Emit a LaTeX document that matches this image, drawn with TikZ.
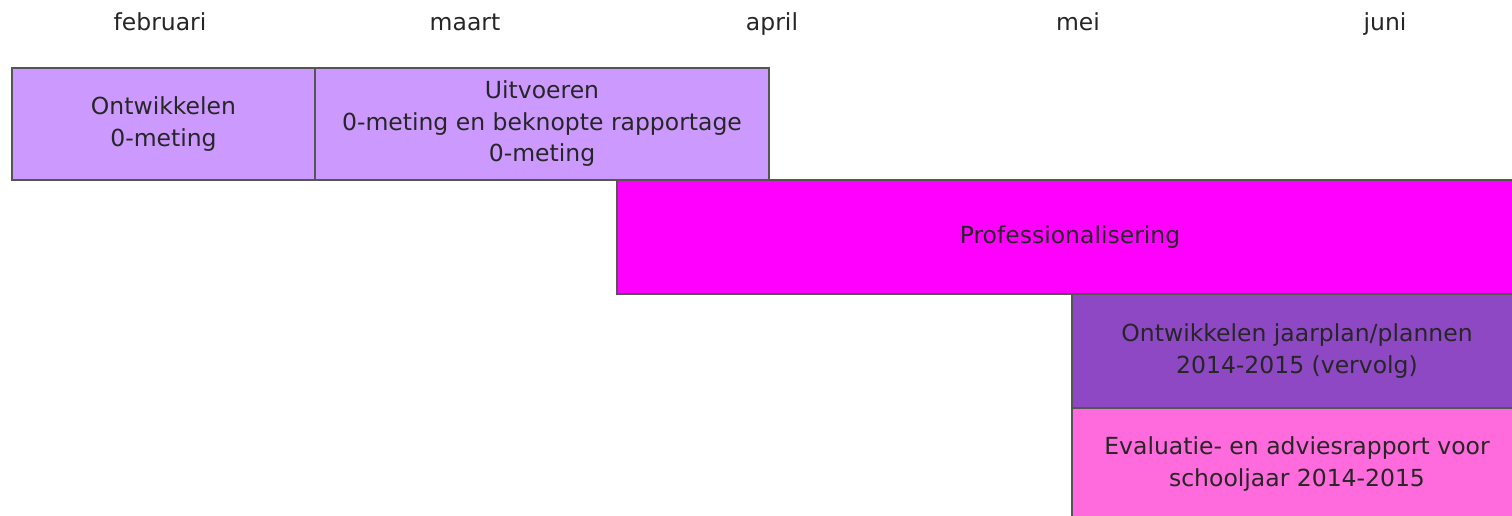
\documentclass[tikz,border=0pt]{standalone}
\usepackage{fontspec}
\setmainfont{DejaVu Sans}
\usepackage{xcolor}
\usetikzlibrary{positioning}

\definecolor{lila}{HTML}{CC99FF}
\definecolor{magenta2}{HTML}{FF00FF}
\definecolor{paars}{HTML}{8E48C4}
\definecolor{roze}{HTML}{FF6ADC}
\definecolor{rand}{HTML}{555555}

\tikzset{
	monthlabel/.style = {font=\fontsize{23.5}{28}\selectfont, text=black!85},
	taskbox/.style = {draw=rand, line width=1.5pt, align=center, inner sep=0pt,
		font=\fontsize{23.5}{31.5}\selectfont, text=black!85}
}

\begin{document}
\begin{tikzpicture}[x=1pt, y=-1pt]
			\useasboundingbox (0,0) rectangle (1512,516);
			\clip (0,0) rectangle (1512,516);

			\foreach \m/\x in {februari/160,maart/465,april/772,mei/1078,juni/1385}
			{
				\node [monthlabel, anchor=base] (\m) at (\x,31) {\m};
			}

			\node [taskbox, fill=lila, minimum width=303pt, minimum height=112pt] (ontwikkelen) at (163.5,124) {Ontwikkelen\\0-meting};
			\node [taskbox, fill=lila, minimum width=454pt, minimum height=112pt, right=-1.5pt of ontwikkelen] (uitvoeren) {Uitvoeren\\0-meting en beknopte rapportage\\0-meting};

			\node [taskbox, fill=magenta2, minimum width=906pt, minimum height=114pt] (prof) at (1070,237) {Professionalisering};

			\node [taskbox, fill=paars, minimum width=450pt, minimum height=114pt] (jaarplan) at (1297,351) {Ontwikkelen jaarplan/plannen\\2014-2015 (vervolg)};
			\node [taskbox, fill=roze, minimum width=450pt, minimum height=112pt, below=-1.5pt of jaarplan] (evaluatie) {Evaluatie- en adviesrapport voor\\schooljaar 2014-2015};
		\end{tikzpicture}
\end{document}
